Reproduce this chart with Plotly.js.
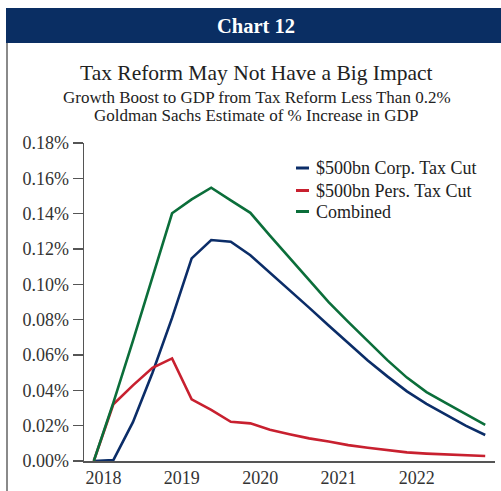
<!DOCTYPE html>
<html>
<head>
<meta charset="utf-8">
<script src="https://cdn.plot.ly/plotly-3.0.1.min.js"></script>
<style>
html,body{margin:0;padding:0;background:#fff;}
#chart{width:501px;height:491px;}
</style>
</head>
<body>
<div id="chart"></div>
<script>
// Quarterly data, 2017Q4 .. 2022Q4
const quarters = ["2017Q4","2018Q1","2018Q2","2018Q3","2018Q4","2019Q1","2019Q2","2019Q3","2019Q4",
  "2020Q1","2020Q2","2020Q3","2020Q4","2021Q1","2021Q2","2021Q3","2021Q4","2022Q1","2022Q2","2022Q3","2022Q4"];
const corpTaxCut = [0, 0.0005, 0.022, 0.050, 0.081, 0.1147, 0.1251, 0.1241, 0.1165, 0.1067, 0.0968, 0.0868,
  0.0767, 0.0667, 0.0569, 0.0479, 0.0394, 0.0324, 0.0261, 0.0200, 0.0147];
const persTaxCut = [0, 0.0321, 0.0428, 0.0528, 0.0581, 0.0349, 0.0289, 0.0222, 0.0213, 0.0177, 0.0152, 0.0128,
  0.0110, 0.0090, 0.0075, 0.0060, 0.0049, 0.0042, 0.0036, 0.0031, 0.0028];
const combined = [0, 0.033, 0.068, 0.104, 0.1402, 0.1481, 0.1547, 0.1475, 0.1405, 0.1276, 0.1149, 0.1023,
  0.0899, 0.0787, 0.0676, 0.0571, 0.0472, 0.0390, 0.0327, 0.0265, 0.0204];
const seriesNames = ["$500bn Corp. Tax Cut", "$500bn Pers. Tax Cut", "Combined"];
const yearTicks = [2018, 2019, 2020, 2021, 2022];
const yTicks = [0, 0.02, 0.04, 0.06, 0.08, 0.10, 0.12, 0.14, 0.16, 0.18];

const headerText = "Chart 12";
const titleText = "Tax Reform May Not Have a Big Impact";
const subtitle1 = "Growth Boost to GDP from Tax Reform Less Than 0.2%";
const subtitle2 = "Goldman Sachs Estimate of % Increase in GDP";

// quarter label -> mid-quarter decimal year
const xq = quarters.map(q => +q.slice(0,4) + (+q.slice(5) - 1) / 4 + 0.125);

const colors = ["#0b2d68", "#c8202f", "#0b6e3a"];
const series = [corpTaxCut, persTaxCut, combined];
const FONT = "Liberation Serif";

const traces = series.map((s, i) => ({
  x: xq, y: s, type: "scatter", mode: "lines", name: seriesNames[i],
  line: {color: colors[i], width: 2.6}, showlegend: false, hoverinfo: "skip"
}));

// paper-coordinate helpers (plot area: x 84..495, y 143..461)
const W = 411, H = 318, L = 84, B = 461;
const px = v => (v - L) / W;
const py = v => (B - v) / H;

const shapes = [
  {type: "rect", xref: "paper", yref: "paper", x0: px(6), x1: px(501), y0: py(43), y1: py(8),
   fillcolor: "#0a2e63", line: {width: 0}},
  {type: "line", xref: "paper", yref: "paper", x0: px(7), x1: px(7), y0: py(43), y1: py(491),
   line: {color: "#8a8a8a", width: 2}}
];
const annotations = [
  {xref: "paper", yref: "paper", x: px(256), y: py(26), text: "<b>" + headerText + "</b>", showarrow: false,
   font: {family: FONT, size: 20.5, color: "#ffffff"}, xanchor: "center", yanchor: "middle"},
  {xref: "paper", yref: "paper", x: px(256), y: py(73), text: titleText, showarrow: false,
   font: {family: FONT, size: 21.5, color: "#222"}, xanchor: "center", yanchor: "middle"},
  {xref: "paper", yref: "paper", x: px(257), y: py(97), text: subtitle1, showarrow: false,
   font: {family: FONT, size: 17, color: "#222"}, xanchor: "center", yanchor: "middle"},
  {xref: "paper", yref: "paper", x: px(256), y: py(116), text: subtitle2, showarrow: false,
   font: {family: FONT, size: 17, color: "#222"}, xanchor: "center", yanchor: "middle"}
];
// manual legend
const legY = [168, 190.5, 211.5];
seriesNames.forEach((n, i) => {
  shapes.push({type: "line", xref: "paper", yref: "paper", x0: px(296), x1: px(309), y0: py(legY[i]), y1: py(legY[i]),
    line: {color: colors[i], width: 3}});
  annotations.push({xref: "paper", yref: "paper", x: px(314), y: py(legY[i]), text: n, showarrow: false,
    font: {family: FONT, size: 18, color: "#222"}, xanchor: "left", yanchor: "middle"});
});

const layout = {
  width: 501, height: 491,
  margin: {l: L, r: 501 - 495, t: 143, b: 491 - B},
  paper_bgcolor: "#fff", plot_bgcolor: "#fff",
  showlegend: false,
  font: {family: FONT, color: "#333", size: 16},
  xaxis: {range: [2017.75, 2023.0], tickvals: yearTicks, ticktext: yearTicks.map(String),
    showgrid: false, zeroline: false, showline: true, linecolor: "#555", linewidth: 1.5, ticks: "",
    tickfont: {family: FONT, size: 18, color: "#333"}, fixedrange: true},
  yaxis: {range: [0, 0.18], tickvals: yTicks, ticktext: yTicks.map(v => v.toFixed(2) + "%"),
    showgrid: false, zeroline: false, showline: true, linecolor: "#555", linewidth: 1.5,
    ticks: "outside", ticklen: 10, tickwidth: 1.5, tickcolor: "#555",
    tickfont: {family: FONT, size: 18, color: "#333"}, fixedrange: true},
  shapes: shapes,
  annotations: annotations
};

Plotly.newPlot("chart", traces, layout, {staticPlot: true, displayModeBar: false});
</script>
</body>
</html>
